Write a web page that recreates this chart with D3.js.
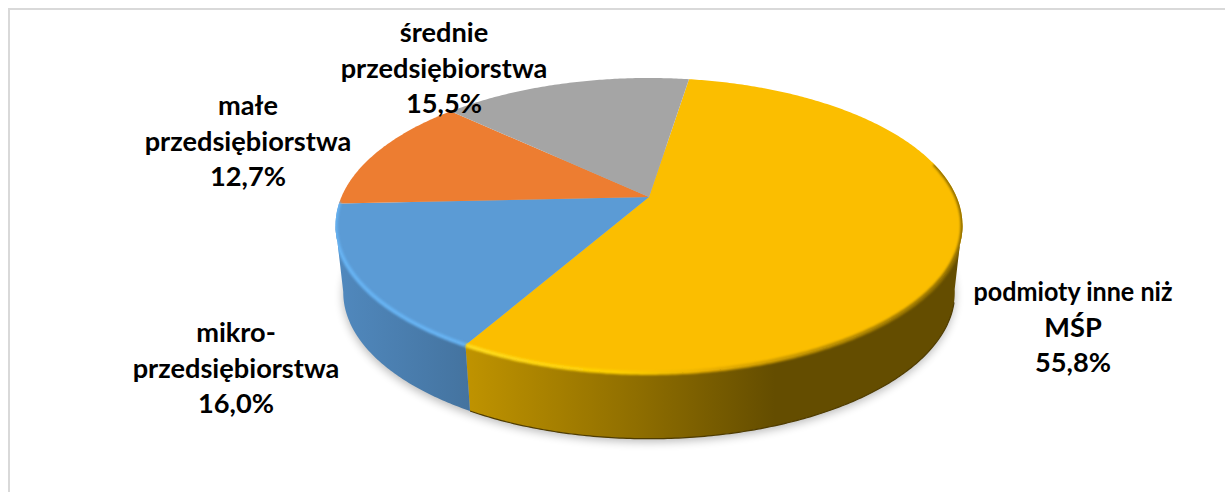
<!DOCTYPE html>
<html>
<head>
<meta charset="utf-8">
<script src="https://cdn.jsdelivr.net/npm/d3@7"></script>
<style>
html,body{margin:0;padding:0;background:#fff;overflow:hidden}
svg{display:block}
</style>
</head>
<body>
<svg id="c" width="1225" height="492"></svg>
<script>
const categories = ["podmioty inne niż MŚP", "mikroprzedsiębiorstwa", "małe przedsiębiorstwa", "średnie przedsiębiorstwa"];
const values = [55.8, 16.0, 12.7, 15.5];
const colors = ["#fbbe00", "#5b9bd5", "#ed7d31", "#a5a5a5"];
const labelLines = [
  ["podmioty inne niż", "MŚP"],
  ["mikro-", "przedsiębiorstwa"],
  ["małe", "przedsiębiorstwa"],
  ["średnie", "przedsiębiorstwa"]
];
const labelAnchors = [[1073, 301], [236, 342], [248, 115], [444, 42]];

const W = 1225, H = 492;
const svg = d3.select("#c");
const defs = svg.append("defs");

// Perspective view of the disc: top rim and bottom rim of the cylinder
const P = 0.193;
const topFace = {x0: 649, y0: 197, a: 307.6, b: 142};
const botFace = {x0: 649, y0: 264, a: 300, b: 141};
const project = (f, t) => {
  const u = Math.sin(t), v = -Math.cos(t), w = 1 - P * v;
  return [f.x0 + f.a * u / w, f.y0 + f.b * v / w];
};
const arcPts = (f, t0, t1) => {
  const n = Math.max(2, Math.ceil(Math.abs(t1 - t0) / 0.01));
  return d3.range(n + 1).map(i => project(f, t0 + (t1 - t0) * i / n));
};
const line = d3.line();
const rad = d => d * Math.PI / 180;

const startA = rad(8.9);
const pie = d3.pie().sort(null).startAngle(startA).endAngle(startA + 2 * Math.PI);
const slices = pie(values);

// filters
const blur = (id, s) => defs.append("filter").attr("id", id)
  .attr("x", "-10%").attr("y", "-10%").attr("width", "120%").attr("height", "125%")
  .append("feGaussianBlur").attr("stdDeviation", s);
blur("shadowBlur", 5);
const edgeF = defs.append("filter").attr("id", "edgeBlur").attr("filterUnits", "userSpaceOnUse")
  .attr("x", 0).attr("y", 0).attr("width", W).attr("height", H);
edgeF.append("feGaussianBlur").attr("stdDeviation", 1.1);

// gradients
const grad = (id, x1, x2, stops) => {
  const g = defs.append("linearGradient").attr("id", id).attr("gradientUnits", "userSpaceOnUse")
    .attr("x1", x1).attr("x2", x2).attr("y1", 0).attr("y2", 0);
  stops.forEach(s => g.append("stop").attr("offset", s[0]).attr("stop-color", s[1]));
};
grad("wallY", 467, 775, [[0, "#bf9300"], [0.55, "#8f6e00"], [1, "#644d00"]]);
grad("wallB", 340, 470, [[0, "#5088bd"], [1, "#44739f"]]);
grad("rimY", 467, 960, [[0, "#ffdc1e"], [0.3, "#ffd000"], [0.5, "#e8ae00"], [0.7, "#c09200"], [1, "#8d6c00"]]);

// frame
svg.append("path")
  .attr("d", `M9,${H} V9 H${W}`)
  .attr("fill", "none").attr("stroke", "#d9d9d9").attr("stroke-width", 2);

// shadow
svg.append("path")
  .attr("d", line(arcPts(botFace, 0, 2 * Math.PI)) + "Z")
  .attr("transform", "translate(0,3)")
  .attr("fill", "#000").attr("opacity", 0.28)
  .attr("filter", "url(#shadowBlur)");

// walls
const wallPath = (t0, t1) =>
  line(arcPts(topFace, t0, t1).concat(arcPts(botFace, t1, t0))) + "Z";
const yEnd = slices[0].endAngle;
const bEnd = rad(259);
svg.append("path").attr("d", wallPath(rad(100), yEnd)).attr("fill", "url(#wallY)");
svg.append("path").attr("d", wallPath(yEnd, bEnd)).attr("fill", "url(#wallB)");
svg.append("path").attr("d", line(arcPts(botFace, rad(105), yEnd)))
  .attr("fill", "none").attr("stroke", "#4f3c00").attr("stroke-width", 1.2);

// top face
svg.append("g").selectAll("path").data(slices).join("path")
  .attr("d", d => line([project({...topFace, a: 0, b: 0}, 0)].concat(arcPts(topFace, d.startAngle, d.endAngle))) + "Z")
  .attr("fill", (d, i) => colors[i]);

// bevel on the front rim
const clip = defs.append("clipPath").attr("id", "discClip");
clip.append("path").attr("d", line(arcPts(topFace, 0, 2 * Math.PI)) + "Z");
clip.append("path").attr("d", wallPath(rad(100), bEnd));
const bevel = svg.append("g").attr("clip-path", "url(#discClip)");
bevel.append("path").attr("d", line(arcPts(topFace, rad(76), yEnd)))
  .attr("fill", "none").attr("stroke", "url(#rimY)").attr("stroke-width", 4)
  .attr("filter", "url(#edgeBlur)");
bevel.append("path").attr("d", line(arcPts(topFace, yEnd, rad(268))))
  .attr("fill", "none").attr("stroke", "#66b2f2").attr("stroke-width", 4)
  .attr("filter", "url(#edgeBlur)");

// labels
const fmt = v => v.toFixed(1).replace(".", ",") + "%";
const LH = 35.7;
const maxLineWidth = 208;
const labels = svg.append("g")
  .attr("font-family", "Lato, Carlito, sans-serif")
  .attr("font-weight", 700)
  .attr("font-size", 27.2)
  .attr("fill", "#000")
  .attr("text-anchor", "middle");
slices.forEach((d, i) => {
  const [x, y] = labelAnchors[i];
  labelLines[i].concat([fmt(values[i])]).forEach((t, j) => {
    const el = labels.append("text").attr("x", x).attr("y", y + j * LH).text(t);
    // the spaces in this face are wider than the original's: keep the long line to the original's width
    if (t.includes(" ")) el.attr("textLength", 199).attr("lengthAdjust", "spacingAndGlyphs");
  });
});
</script>
</body>
</html>
